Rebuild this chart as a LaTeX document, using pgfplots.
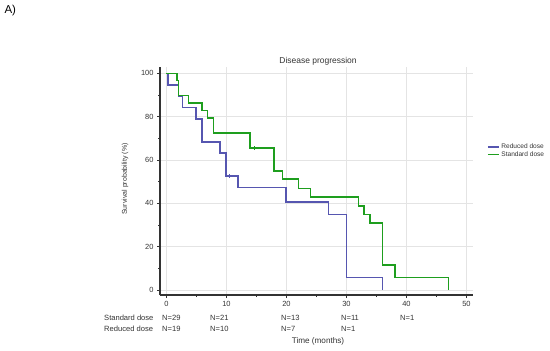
\documentclass[border=0pt]{standalone}
\usepackage{fontspec}
\setmainfont{Liberation Sans}
\usepackage{pgfplots}
\pgfplotsset{compat=1.18}

\definecolor{reducedblue}{HTML}{5656B0}
\definecolor{standardgreen}{HTML}{1E9E1E}
\definecolor{gridgray}{HTML}{E4E4E4}
\definecolor{axgray}{HTML}{333333}

\begin{document}
\begin{tikzpicture}[x=1bp,y=1bp]
\path[use as bounding box] (0,0) rectangle (550,350);
\node[anchor=west, font=\fontsize{11.5}{13}\selectfont] at (1,339) {A)};

\begin{axis}[
    at={(160bp,55bp)}, anchor=south west,
    width=313bp, height=228bp, scale only axis,
    xmin=-1.08, xmax=51.1, ymin=-2.3, ymax=102.9,
    axis lines=left,
    axis line style={axgray, line width=1.2bp, -},
    xtick={0,10,...,50}, ytick={0,20,...,100},
    minor xtick={5,15,...,45}, minor ytick={10,30,...,90},
    grid=major, major grid style={gridgray, line width=0.6bp},
    tick align=outside, major tick length=3bp, minor tick length=2bp,
    tick style={axgray, line width=0.7bp},
    ticklabel style={font=\fontsize{7.5}{9}\selectfont, text=axgray},
    /pgf/number format/assume math mode=true,
    legend style={at={(1.045,0.632)}, anchor=west, draw=none, fill=none,
        font=\fontsize{6.6}{7.5}\selectfont, text=axgray,
        row sep=-2.5bp, inner sep=0pt},
    legend cell align=left,
    legend image code/.code={\draw[#1, line width=1.1bp] (0bp,0bp) -- (11bp,0bp);},
]
% Reduced dose
\addplot[const plot, reducedblue, line width=1.5bp] coordinates {
 (0,100) (0.28,94.7) (2.0,89.5) (2.67,84.2) (4.9,78.9) (5.9,68.4)
 (8.9,63.2) (9.9,52.6) (11.9,47.4) (19.9,40.6) (27.0,34.8) (30.0,5.8) (36.0,0)};
% Standard dose
\addplot[const plot, standardgreen, line width=1.5bp] coordinates {
 (0,100) (1.73,96.6) (2.0,89.7) (3.67,86.2) (5.9,82.8) (6.83,79.3) (7.83,72.4)
 (13.9,65.5) (17.95,54.8) (19.3,51.2) (22.0,46.8) (24.0,42.9) (32.0,38.7)
 (32.95,34.9) (33.95,31.0) (36.0,11.5) (38.06,5.8) (47.0,0)};
% censored
\addplot[only marks, mark=|, mark size=1.6bp, reducedblue, line width=0.6bp, forget plot] coordinates {(10.45,52.6)};
\addplot[only marks, mark=|, mark size=1.6bp, standardgreen, line width=0.6bp, forget plot] coordinates {(14.6,65.5)};
\legend{Reduced dose, Standard dose}
\end{axis}

\node[font=\fontsize{8.5}{10}\selectfont, text=axgray] at (318,289) {Disease progression};
\node[font=\fontsize{7}{8}\selectfont, text=axgray, rotate=90] at (125,171) {Survival probability (\%)};

\begin{scope}[every node/.style={anchor=west, inner sep=0pt, font=\fontsize{7.6}{9}\selectfont, text=axgray}]
\node at (104,32) {Standard dose};
\node at (104,21.5) {Reduced dose};
\node at (162,32) {N=29};
\node at (210,32) {N=21};
\node at (281,32) {N=13};
\node at (341,32) {N=11};
\node at (400,32) {N=1};
\node at (162,21.5) {N=19};
\node at (210,21.5) {N=10};
\node at (281,21.5) {N=7};
\node at (341,21.5) {N=1};
\end{scope}
\node[font=\fontsize{8.2}{10}\selectfont, text=axgray] at (318,9) {Time (months)};
\end{tikzpicture}
\end{document}
